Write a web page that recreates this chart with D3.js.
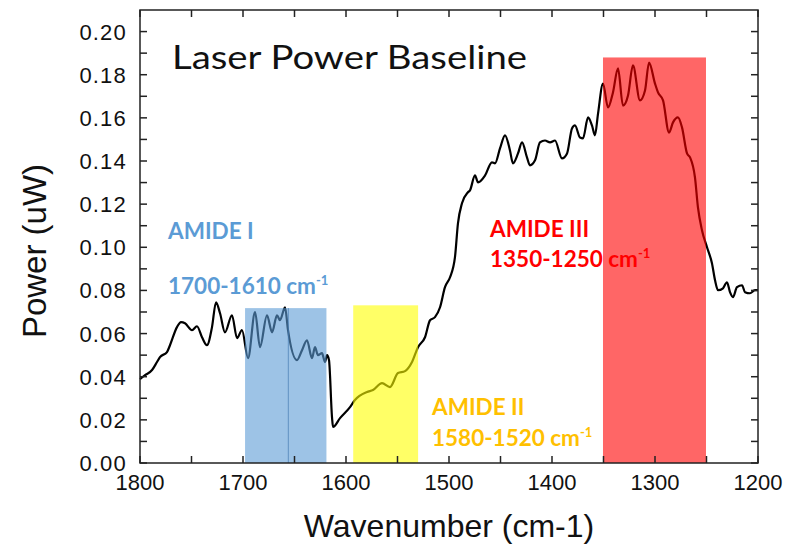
<!DOCTYPE html>
<html><head><meta charset="utf-8">
<script src="https://cdn.jsdelivr.net/npm/d3@7"></script>
<style>body{margin:0;background:#fff}</style>
</head><body>
<svg id="chart" width="790" height="554"></svg>
<script>
// Laser power baseline across the amide region
const wavenumber = [1800,1795.1,1788.3,1783.5,1780.6,1773.8,1770.9,1764.1,1760.2,1756.3,1749.5,1744.7,1739.8,1735.0,1730.1,1726.2,1722.3,1717.5,1710.7,1705.8,1701.0,1695.1,1688.3,1683.5,1676.7,1671.8,1667.0,1664.1,1659.2,1656.3,1647.6,1642.7,1637.9,1633.0,1630.1,1627.2,1623.3,1620.4,1618.4,1616.5,1613.6,1612.6,1605.8,1596.1,1591.3,1579.6,1573.8,1565.0,1557.3,1549.5,1542.7,1535.9,1530.1,1523.3,1518.4,1513.6,1508.7,1503.9,1499.0,1494.2,1491.3,1487.4,1481.6,1479.6,1474.8,1471.8,1465.0,1458.3,1455.3,1450.5,1445.6,1440.8,1437.9,1433.0,1429.1,1424.3,1421.4,1416.5,1411.7,1406.8,1401.9,1397.1,1390.3,1385.4,1380.6,1377.7,1372.8,1369.9,1365.0,1361.2,1358.3,1355.3,1350.5,1345.6,1340.8,1335.9,1331.1,1326.2,1321.4,1314.6,1309.7,1305.8,1300.0,1297.1,1292.2,1286.4,1282.5,1277.7,1273.8,1268.9,1266.0,1261.2,1258.3,1254.4,1249.5,1244.7,1241.7,1238.8,1234.0,1230.1,1227.2,1224.3,1220.4,1215.5,1212.6,1207.8,1202.9,1200];
const power = [0.0389,0.0407,0.0431,0.0468,0.0491,0.0514,0.0546,0.0630,0.0653,0.0648,0.0616,0.0634,0.0583,0.0546,0.0630,0.0745,0.0694,0.0606,0.0685,0.0579,0.0616,0.0486,0.0699,0.0537,0.0685,0.0606,0.0685,0.0662,0.0722,0.0616,0.0477,0.0523,0.0569,0.0486,0.0537,0.0500,0.0509,0.0468,0.0500,0.0477,0.0213,0.0167,0.0208,0.0259,0.0292,0.0329,0.0338,0.0370,0.0352,0.0417,0.0426,0.0468,0.0537,0.0583,0.0662,0.0676,0.0722,0.0815,0.0861,0.0954,0.1111,0.1204,0.1255,0.1264,0.1333,0.1301,0.1333,0.1394,0.1389,0.1458,0.1519,0.1449,0.1389,0.1435,0.1486,0.1417,0.1380,0.1403,0.1486,0.1495,0.1486,0.1495,0.1412,0.1435,0.1551,0.1565,0.1509,0.1505,0.1602,0.1565,0.1519,0.1620,0.1759,0.1648,0.1718,0.1829,0.1657,0.1704,0.1843,0.1681,0.1727,0.1856,0.1759,0.1718,0.1681,0.1532,0.1579,0.1602,0.1556,0.1435,0.1417,0.1324,0.1185,0.1079,0.1000,0.0926,0.0847,0.0801,0.0810,0.0838,0.0792,0.0769,0.0815,0.0824,0.0792,0.0787,0.0801,0.0801];

// Highlighted amide bands
const bandNames = ["AMIDE I", "AMIDE II", "AMIDE III"];
const bandRanges = ["1700-1610", "1580-1520", "1350-1250"];
const bandStart = [1698, 1593, 1350.5];
const bandEnd = [1619, 1530, 1250.5];
const bandTop = [0.0718, 0.0731, 0.188];
const bandSplit = 1656;

// Axis ticks
const xTickLabels = [1800, 1700, 1600, 1500, 1400, 1300, 1200];
const xMinorTicks = [1800,1750,1700,1650,1600,1550,1500,1450,1400,1350,1300,1250,1200];
const yTickLabels = [0, 0.02, 0.04, 0.06, 0.08, 0.10, 0.12, 0.14, 0.16, 0.18, 0.20];
const yMinorTicks = d3.range(0, 0.2001, 0.01);

const fill = ["rgb(91,155,213)", "rgb(255,255,0)", "rgb(255,0,0)"];
const textColor = ["#5b9bd5", "#ffc000", "#ff0000"];

const svg = d3.select("#chart");
const L = 140, R = 758, T = 10, B = 463;
const x = d3.scaleLinear().domain([1800, 1200]).range([L, R]);
const y = d3.scaleLinear().domain([0, 0.21]).range([B, T]);

// spectrum trace
const pts = wavenumber.map((w, i) => [w, power[i]]);
svg.append("path")
  .datum(pts)
  .attr("fill", "none")
  .attr("stroke", "#000")
  .attr("stroke-width", 2.2)
  .attr("stroke-linejoin", "round")
  .attr("d", d3.line().x(d => x(d[0])).y(d => y(d[1])).curve(d3.curveMonotoneX));

// translucent band rectangles over the trace
svg.selectAll("rect.band")
  .data(bandStart)
  .join("rect")
  .attr("class", "band")
  .attr("x", (d, i) => x(d))
  .attr("width", (d, i) => x(bandEnd[i]) - x(d))
  .attr("y", (d, i) => y(bandTop[i]))
  .attr("height", (d, i) => y(0) - y(bandTop[i]))
  .attr("fill", (d, i) => fill[i])
  .attr("fill-opacity", 0.6);

svg.append("line")
  .attr("x1", x(bandSplit)).attr("x2", x(bandSplit))
  .attr("y1", y(bandTop[0])).attr("y2", y(0))
  .attr("stroke", "rgb(70,125,180)").attr("stroke-opacity", 0.7).attr("stroke-width", 1);

// frame with inward ticks
const frame = svg.append("g").attr("stroke", "#222").attr("stroke-width", 1.5);
frame.append("rect").attr("x", L).attr("y", T).attr("width", R - L).attr("height", B - T).attr("fill", "none");
const tl = 7;
xMinorTicks.forEach(v => {
  frame.append("line").attr("x1", x(v)).attr("x2", x(v)).attr("y1", B).attr("y2", B - tl);
  frame.append("line").attr("x1", x(v)).attr("x2", x(v)).attr("y1", T).attr("y2", T + tl);
});
yMinorTicks.forEach(v => {
  frame.append("line").attr("x1", L).attr("x2", L + tl).attr("y1", y(v)).attr("y2", y(v));
  frame.append("line").attr("x1", R).attr("x2", R - tl).attr("y1", y(v)).attr("y2", y(v));
});

// tick labels
const fmt = d3.format(".2f");
svg.append("g").selectAll("text").data(xTickLabels).join("text")
  .attr("x", d => x(d)).attr("y", 490)
  .attr("text-anchor", "middle")
  .attr("font-family", "Liberation Sans, Arial, sans-serif")
  .attr("font-size", 22).attr("fill", "#111")
  .text(d => d);
svg.append("g").selectAll("text").data(yTickLabels).join("text")
  .attr("x", 127).attr("y", d => y(d) + 8)
  .attr("text-anchor", "end")
  .attr("font-family", "Liberation Sans, Arial, sans-serif")
  .attr("font-size", 22).attr("letter-spacing", 1.2).attr("fill", "#111")
  .text(d => fmt(d));

// axis titles
svg.append("text")
  .attr("x", 449).attr("y", 537)
  .attr("text-anchor", "middle")
  .attr("font-family", "Liberation Sans, Arial, sans-serif")
  .attr("font-size", 32).attr("fill", "#111")
  .text("Wavenumber (cm-1)");
svg.append("text")
  .attr("transform", "translate(46,251) rotate(-90)")
  .attr("text-anchor", "middle")
  .attr("font-family", "Liberation Sans, Arial, sans-serif")
  .attr("font-size", 33).attr("fill", "#111")
  .text("Power (uW)");

// chart title
svg.append("text")
  .attr("x", 172).attr("y", 69)
  .attr("font-family", "Lato, sans-serif")
  .attr("font-size", 33).attr("fill", "#111")
  .attr("textLength", 355).attr("lengthAdjust", "spacingAndGlyphs")
  .text("Laser Power Baseline");

// band labels
const labelX = [168, 432, 490];
const nameY = [239, 415, 237];
const rangeY = [294, 446, 267];
bandNames.forEach((name, i) => {
  const g = svg.append("g")
    .attr("font-family", "Lato, sans-serif")
    .attr("font-weight", "bold")
    .attr("font-size", 22.5)
    .attr("fill", textColor[i]);
  g.append("text").attr("x", labelX[i]).attr("y", nameY[i]).text(name);
  const t = g.append("text").attr("x", labelX[i]).attr("y", rangeY[i]);
  t.append("tspan").text(bandRanges[i] + " cm");
  t.append("tspan").attr("dy", -9).attr("font-size", 13).text("-1");
});
</script>
</body></html>
